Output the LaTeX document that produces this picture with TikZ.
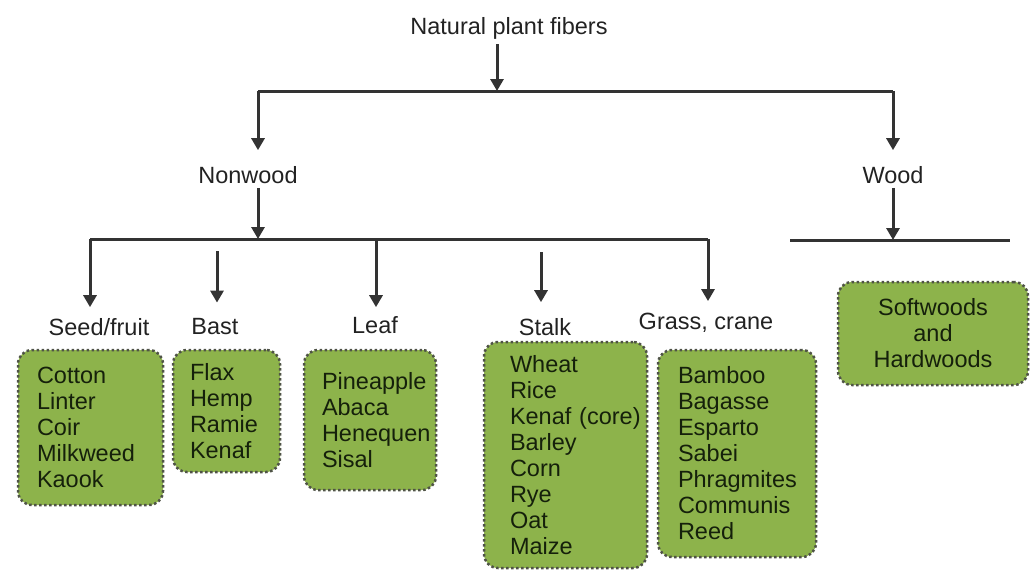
\documentclass[tikz,border=0pt]{standalone}
\usepackage{fontspec}
\setmainfont{Liberation Sans}
\usepackage{tikz}
\usetikzlibrary{arrows.meta}

\definecolor{leafgreen}{HTML}{8DB34B}
\definecolor{edgegray}{HTML}{4F5347}
\definecolor{linegray}{HTML}{333333}
\definecolor{labelgray}{HTML}{222222}
\definecolor{boxtext}{HTML}{15200B}

\begin{document}
\begin{tikzpicture}[x=1pt,y=-1pt,
        lbl/.style={font=\fontsize{23.5}{26}\selectfont, text=labelgray, inner sep=0pt},
        box/.style={draw=edgegray, dash pattern=on 2.5pt off 2.5pt, line width=2.5pt,
            rounded corners=14pt, fill=leafgreen, text=boxtext, align=left,
            inner ysep=0pt, font=\fontsize{23.5}{26}\selectfont},
        link/.style={line width=3pt, draw=linegray},
        arr/.style={link, -{Triangle[width=13pt,length=12pt]}}]
        \useasboundingbox (0,0) rectangle (1036,574);

        % labels
        \node[lbl] (fibers)  at (509,28)  {Natural plant fibers};
        \node[lbl] (nonwood) at (248,175) {Nonwood};
        \node[lbl] (wood)    at (893,175) {Wood};
        \node[lbl] (seed)    at (99,327)  {Seed/fruit};
        \node[lbl] (bast)    at (215,327) {Bast};
        \node[lbl] (leaf)    at (375,325) {Leaf};
        \node[lbl] (stalk)   at (545,327) {Stalk};
        \node[lbl] (grass)   at (706,323) {Grass, crane};

        % lists
        \node[box, inner xsep=19pt, text width=107pt, minimum height=155pt] (seedlist) at (90.5,427.5)
            {Cotton\\Linter\\Coir\\Milkweed\\Kaook};
        \node[box, inner xsep=17pt, text width=73pt, minimum height=122pt] (bastlist) at (226.5,411)
            {Flax\\Hemp\\Ramie\\Kenaf};
        \node[box, inner xsep=18pt, text width=96pt, minimum height=140pt] (leaflist) at (370,420)
            {Pineapple\\Abaca\\Henequen\\Sisal};
        \node[box, inner xsep=26pt, text width=111pt, minimum height=226pt] (stalklist) at (565.5,455)
            {Wheat\\Rice\\\mbox{Kenaf (core)}\\Barley\\Corn\\Rye\\Oat\\Maize};
        \node[box, inner xsep=20pt, text width=118pt, minimum height=207pt] (grasslist) at (737,453.5)
            {Bamboo\\Bagasse\\Esparto\\Sabei\\Phragmites\\Communis\\Reed};
        \node[box, align=center, inner xsep=10pt, text width=170pt, minimum height=103pt] (woodlist) at (933,333.5)
            {Softwoods\\and\\Hardwoods};

        % turning points of the bars
        \coordinate (top)       at (497,91);
        \coordinate (nwturn)    at (258,91);
        \coordinate (wdturn)    at (893,91);
        \coordinate (nwbar)     at (258,239);
        \coordinate (seedturn)  at (90,239);
        \coordinate (baststart) at (217,251);
        \coordinate (leafturn)  at (376,239);
        \coordinate (stalkstart) at (541,252);
        \coordinate (grassturn) at (708,239);
        \coordinate (wdbar)     at (893,240);
        \coordinate (wdleft)    at (790,240);
        \coordinate (wdright)   at (1010,240);

        % first level
        \draw[arr, shorten <=5pt] (fibers.south -| top) -- (top);
        \draw[link] (nwturn) -- (wdturn);
        \draw[arr, shorten >=16pt] (nwturn) -- (nwturn |- nonwood.north);
        \draw[arr, shorten >=16pt] (wdturn) -- (wood.north);

        % nonwood
        \draw[arr, shorten <=4pt] (nonwood.south -| nwbar) -- (nwbar);
        \draw[link] (seedturn) -- (grassturn);
        \draw[arr, shorten >=11pt] (seedturn) -- (seedturn |- seed.north);
        \draw[arr, shorten >=16pt] (baststart) -- (baststart |- bast.north);
        \draw[arr, shorten >=9pt] (leafturn) -- (leafturn |- leaf.north);
        \draw[arr, shorten >=16pt] (stalkstart) -- (stalkstart |- stalk.north);
        \draw[arr, shorten >=12pt] (grassturn) -- (grassturn |- grass.north);

        % wood
        \draw[arr, shorten <=4pt] (wood.south) -- (wdbar);
        \draw[link] (wdleft) -- (wdright);
    \end{tikzpicture}
\end{document}
